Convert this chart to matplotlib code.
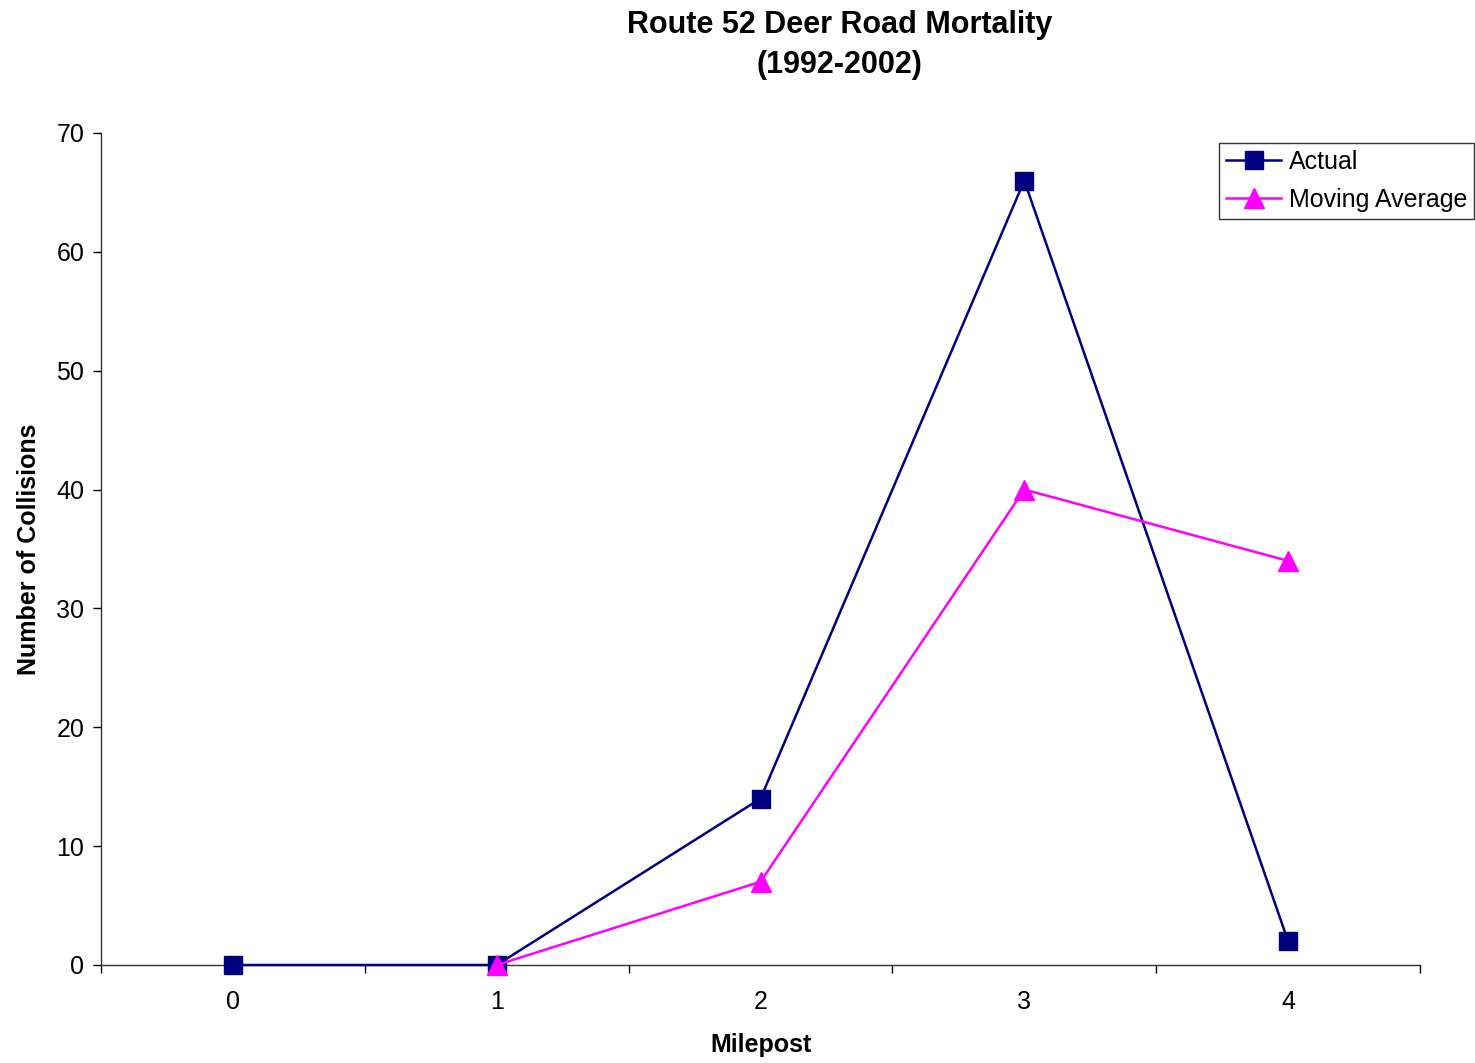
import matplotlib.pyplot as plt
import numpy as np

plt.rcParams['font.family'] = ['Liberation Sans', 'DejaVu Sans']

# data
mileposts = [0, 1, 2, 3, 4]
actual = [0, 0, 14, 66, 2]
ma_mileposts = [1, 2, 3, 4]
moving_avg = [0, 7, 40, 34]

fig = plt.figure(figsize=(14.75, 10.63), dpi=100)
ax = fig.add_axes([0.0685, 0.0922, 0.8942, 0.7827])

ax.plot(mileposts, actual, '-s', color='#000080', lw=1.8, ms=13,
        label='Actual', clip_on=False, zorder=3)
ax.plot(ma_mileposts, moving_avg, '-^', color='#FF00FF', lw=1.8, ms=14,
        label='Moving Average', clip_on=False, zorder=4)

ax.set_xlim(-0.5, 4.5)
ax.set_ylim(0, 70)
ax.set_yticks(np.arange(0, 71, 10))
ax.set_xticks(mileposts)
ax.set_xticks(np.arange(-0.5, 4.6, 1), minor=True)
ax.tick_params(axis='x', which='major', length=0, pad=18, labelsize=18)
ax.tick_params(axis='x', which='minor', length=6, direction='out', width=1)
ax.tick_params(axis='y', length=6, direction='out', width=1, labelsize=18, pad=6)

for s in ['top', 'right']:
    ax.spines[s].set_visible(False)
for s in ['left', 'bottom']:
    ax.spines[s].set_color('#333333')
    ax.spines[s].set_linewidth(1)

ax.set_xlabel('Milepost', fontsize=18, fontweight='bold', labelpad=14)
ax.set_ylabel('Number of Collisions', fontsize=18, fontweight='bold', labelpad=11)
fig.suptitle('Route 52 Deer Road Mortality\n(1992-2002)', fontsize=22,
             fontweight='bold', y=0.991, x=0.569, linespacing=1.45)

leg = ax.legend(loc='upper right', bbox_to_anchor=(1.041, 0.988), fontsize=18,
                frameon=True, fancybox=False, edgecolor='black',
                handlelength=2.2, handletextpad=0.3, borderpad=0.28,
                labelspacing=0.55, borderaxespad=0)
leg.get_frame().set_linewidth(1)

fig.savefig('out.png', dpi=100)
